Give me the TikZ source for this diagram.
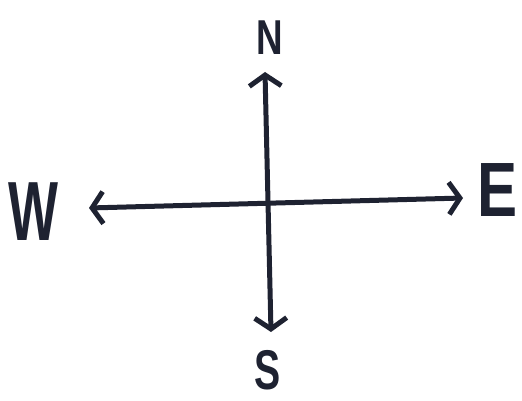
\documentclass[tikz,border=0pt]{standalone}
\usepackage{fontspec}
\setsansfont{Liberation Sans}
\usetikzlibrary{arrows.meta}
\definecolor{ink}{HTML}{1E2231}
\newcommand{\dirsize}[1]{\fontsize{#1}{#1}\selectfont}

\begin{document}
\begin{tikzpicture}[x=1pt,y=-1pt,font=\sffamily\bfseries,
  dir/.style={text=ink,inner sep=0pt},
  arr/.style={{Straight Barb[length=11pt,width=32pt]}-{Straight Barb[length=11pt,width=32pt]},
    line width=5pt,draw=ink,line cap=round,line join=round}]
  \useasboundingbox (0,0) rectangle (522,401);
  \node[dir,font=\sffamily\bfseries\dirsize{49pt}] (north) at (270,38) {\scalebox{0.75}[1]{N}};
  \node[dir,font=\sffamily\bfseries\dirsize{56pt}] (south) at (268,370) {\scalebox{0.7}[1]{S}};
  \node[dir,font=\sffamily\bfseries\dirsize{84pt}] (west) at (33,212) {\scalebox{0.63}[1]{W}};
  \node[dir,font=\sffamily\bfseries\dirsize{77pt}] (east) at (498,190) {\scalebox{0.78}[1]{E}};
  \coordinate (ntip) at (265,72);
  \coordinate (stip) at (271,332);
  \coordinate (wtip) at (89,208);
  \coordinate (etip) at (463,198);
  \draw[arr] (wtip) -- (etip);
  \draw[arr] (ntip) -- (stip);
\end{tikzpicture}
\end{document}
